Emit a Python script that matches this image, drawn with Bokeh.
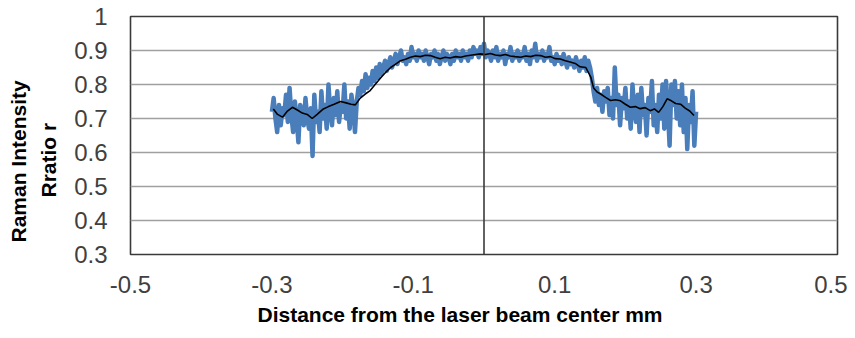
import numpy as np
from bokeh.plotting import figure
from bokeh.models import Range1d, FixedTicker, Span, Title
from bokeh.embed import file_html
from bokeh.resources import INLINE

# ---- data ----
x_start, x_end = -0.3, 0.3
raman_ratio = [
    # -0.300 .. -0.180
    0.72, 0.76, 0.70, 0.66, 0.74, 0.68, 0.73, 0.71, 0.77, 0.69,
    0.79, 0.71, 0.66, 0.75, 0.70, 0.63, 0.74, 0.72, 0.68, 0.76,
    0.70, 0.67, 0.73, 0.59, 0.77, 0.69, 0.72, 0.66, 0.78, 0.70,
    0.74, 0.67, 0.80, 0.72, 0.68, 0.76, 0.71, 0.78, 0.69, 0.74,
    0.72, 0.80, 0.70, 0.75, 0.67, 0.77, 0.73, 0.66, 0.75,
    # rise
    0.79, 0.77, 0.81, 0.78, 0.83, 0.79, 0.82, 0.80, 0.84, 0.81,
    0.85, 0.82, 0.86, 0.83, 0.85, 0.87, 0.84, 0.86, 0.88, 0.85,
    0.87, 0.89, 0.86, 0.88, 0.90, 0.87, 0.88, 0.86, 0.89, 0.87,
    0.91, 0.88,
    # plateau
    0.89, 0.87, 0.90, 0.88, 0.89, 0.87, 0.90, 0.88, 0.86, 0.89,
    0.88, 0.90, 0.87, 0.89, 0.86, 0.88, 0.90, 0.87, 0.89, 0.88,
    0.86, 0.89, 0.87, 0.90, 0.88, 0.89, 0.87, 0.90, 0.88, 0.89,
    0.87, 0.90, 0.88, 0.91, 0.89, 0.90, 0.88, 0.91, 0.89, 0.92,
    0.88, 0.90, 0.89, 0.87, 0.90, 0.88, 0.91, 0.87, 0.89, 0.88,
    0.90, 0.86, 0.89, 0.88, 0.91, 0.87, 0.89, 0.88, 0.90, 0.87,
    0.89, 0.88, 0.91, 0.87, 0.89, 0.86, 0.90, 0.88, 0.92, 0.87,
    0.89, 0.88, 0.90, 0.87, 0.89, 0.88, 0.91, 0.87, 0.88, 0.86,
    0.89, 0.87, 0.88, 0.86, 0.89, 0.87, 0.85, 0.88, 0.86, 0.87,
    0.85, 0.88, 0.86, 0.84, 0.87, 0.85, 0.88, 0.84, 0.87, 0.85,
    0.82,
    # drop and right shoulder
    0.78, 0.75, 0.79, 0.74, 0.77, 0.72, 0.78, 0.75, 0.79, 0.71,
    0.76, 0.70, 0.85, 0.74, 0.77, 0.68, 0.76, 0.73, 0.79, 0.70,
    0.75, 0.67, 0.80, 0.72, 0.69, 0.77, 0.66, 0.79, 0.71, 0.74,
    0.65, 0.76, 0.72, 0.81, 0.68, 0.74, 0.66, 0.77, 0.70, 0.80,
    0.67, 0.81, 0.73, 0.62, 0.80, 0.74, 0.81, 0.70, 0.78, 0.68,
    0.80, 0.66, 0.76, 0.61, 0.74, 0.69, 0.78, 0.62, 0.72,
]

trend = [
    (-0.298, 0.728), (-0.292, 0.712), (-0.285, 0.704), (-0.278, 0.722),
    (-0.271, 0.733), (-0.264, 0.725), (-0.257, 0.716), (-0.250, 0.712),
    (-0.243, 0.700), (-0.236, 0.712), (-0.228, 0.727), (-0.220, 0.735),
    (-0.212, 0.742), (-0.203, 0.750), (-0.195, 0.746), (-0.188, 0.742),
    (-0.182, 0.740), (-0.175, 0.760), (-0.168, 0.772), (-0.161, 0.782),
    (-0.154, 0.800), (-0.146, 0.820), (-0.139, 0.836), (-0.132, 0.850),
    (-0.125, 0.860), (-0.118, 0.870), (-0.111, 0.874), (-0.104, 0.880),
    (-0.097, 0.884), (-0.090, 0.882), (-0.083, 0.886), (-0.076, 0.885),
    (-0.069, 0.880), (-0.062, 0.876), (-0.055, 0.880), (-0.048, 0.878),
    (-0.040, 0.882), (-0.033, 0.880), (-0.026, 0.884), (-0.019, 0.886),
    (-0.012, 0.888), (-0.005, 0.890), (0.002, 0.888), (0.009, 0.891),
    (0.016, 0.887), (0.023, 0.885), (0.030, 0.888), (0.037, 0.884),
    (0.044, 0.882), (0.052, 0.880), (0.059, 0.884), (0.066, 0.882),
    (0.073, 0.886), (0.080, 0.885), (0.087, 0.880), (0.094, 0.882),
    (0.101, 0.876), (0.108, 0.875), (0.115, 0.870), (0.122, 0.866),
    (0.129, 0.862), (0.136, 0.852), (0.144, 0.850), (0.151, 0.822),
    (0.155, 0.790), (0.160, 0.778), (0.165, 0.772), (0.172, 0.762),
    (0.179, 0.753), (0.186, 0.755), (0.193, 0.752), (0.200, 0.742),
    (0.207, 0.733), (0.214, 0.735), (0.221, 0.729), (0.228, 0.732),
    (0.235, 0.723), (0.241, 0.728), (0.247, 0.718), (0.253, 0.735),
    (0.259, 0.758), (0.265, 0.752), (0.271, 0.744), (0.278, 0.742),
    (0.285, 0.730), (0.291, 0.722), (0.297, 0.709),
]

x_ticks = [-0.5, -0.3, -0.1, 0.1, 0.3, 0.5]
x_tick_labels = ["-0.5", "-0.3", "-0.1", "0.1", "0.3", "0.5"]
y_ticks = [0.3, 0.4, 0.5, 0.6, 0.7, 0.8, 0.9, 1.0]
y_tick_labels = ["0.3", "0.4", "0.5", "0.6", "0.7", "0.8", "0.9", "1"]

x_title = "Distance from the laser beam center  mm"
y_title_1 = "Raman Intensity"
y_title_2 = "Rratio r"

# ---- figure ----
FONT = "Liberation Sans"
p = figure(
    frame_width=707, frame_height=238,
    min_border_left=130, min_border_top=16, min_border_right=10, min_border_bottom=76,
    x_range=Range1d(-0.5, 0.5), y_range=Range1d(0.3, 1.0),
    output_backend="svg", toolbar_location=None,
    background_fill_color="white", border_fill_color="white",
)
p.outline_line_color = "#3a3a3a"
p.outline_line_width = 1.6

p.xgrid.visible = False
p.ygrid.ticker = FixedTicker(ticks=y_ticks[1:-1])
p.ygrid.grid_line_color = "#a0a0a0"
p.ygrid.grid_line_width = 1.6

for ax in (p.xaxis[0], p.yaxis[0]):
    ax.axis_line_color = None
    ax.major_tick_line_color = None
    ax.minor_tick_line_color = None
    ax.major_tick_in = 0
    ax.major_tick_out = 0
    ax.minor_tick_in = 0
    ax.minor_tick_out = 0
    ax.major_label_text_font = FONT
    ax.major_label_text_font_size = "24px"
    ax.major_label_text_color = "#404040"

p.xaxis.ticker = FixedTicker(ticks=x_ticks)
p.xaxis.major_label_overrides = dict(zip(x_ticks, x_tick_labels))
p.xaxis.major_label_standoff = 21
p.yaxis.ticker = FixedTicker(ticks=y_ticks)
p.yaxis.major_label_overrides = dict(zip(y_ticks, y_tick_labels))
p.yaxis.major_label_standoff = 23

zero_line = Span(location=0, dimension="height", line_color="#3a3a3a", line_width=1.6)
p.add_layout(zero_line)

bx = np.linspace(x_start, x_end, len(raman_ratio))
p.line(bx, raman_ratio, line_color="#4a7ebb", line_width=4.5, line_join="round")
tx, ty = zip(*trend)
p.line(list(tx), list(ty), line_color="black", line_width=1.6)

# titles
title_style = dict(text_font=FONT, text_font_style="bold", text_font_size="21px",
                   text_color="black", align="left")
p.add_layout(Title(text=x_title, offset=127, standoff=10, **title_style), "below")
p.add_layout(Title(text=y_title_2, offset=57, standoff=23, **title_style), "left")
p.add_layout(Title(text=y_title_1, offset=12, standoff=-12, **title_style), "left")

open("out.html", "w").write(file_html(p, INLINE))
